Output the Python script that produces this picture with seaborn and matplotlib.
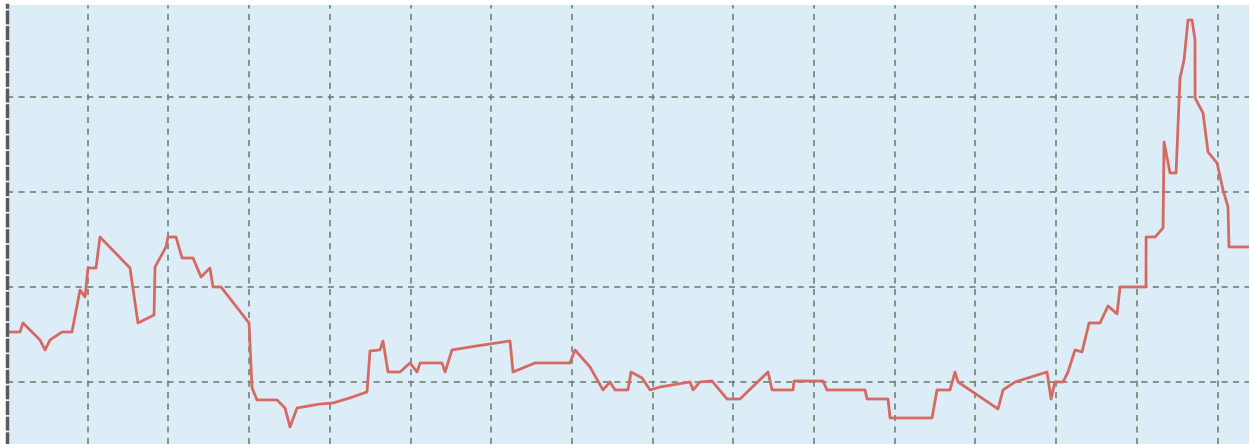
import numpy as np
import pandas as pd
import seaborn as sns
import matplotlib.pyplot as plt

# values (x in steps, grid every 10; y grid every 10)
step = [0, 1.61, 1.98, 4.09, 4.71, 5.33, 6.82, 8.05, 9.05, 9.67,
        10.04, 11.03, 11.52, 15.24, 16.23, 18.22, 18.34, 19.70, 19.95, 20.94,
        21.69, 23.05, 24.04, 25.15, 25.53, 26.52, 29.99, 30.36, 30.98, 33.46,
        34.45, 35.07, 35.94, 38.79, 40.40, 42.50, 44.61, 44.98, 46.22, 46.59,
        47.21, 48.70, 49.94, 50.81, 51.18, 53.90, 54.28, 55.14, 57.37, 62.33,
        62.70, 65.43, 69.76, 70.38, 72.24, 73.85, 74.72, 75.34, 76.95, 77.32,
        78.69, 79.68, 80.92, 84.63, 85.01, 85.87, 87.36, 89.22, 90.83, 94.30,
        94.80, 97.40, 97.52, 101.12, 101.61, 106.32, 106.57, 109.17, 109.42, 114.62,
        115.24, 116.85, 117.47, 117.84, 122.80, 123.42, 124.91, 128.87, 129.37, 129.86,
        130.86, 131.47, 132.34, 133.21, 134.08, 135.44, 136.43, 137.55, 137.92, 141.14,
        141.15, 142.26, 143.25, 143.37, 144.11, 144.86, 145.35, 145.85, 146.34, 146.84,
        147.21, 147.22, 148.20, 148.82, 149.94, 150.68, 151.30, 151.42, 153.9]
level = [15.26, 15.26, 16.21, 14.42, 13.37, 14.42, 15.26, 15.26, 19.68, 18.95,
         22.0, 22.0, 25.26, 22.0, 16.21, 17.05, 22.1, 24.21, 25.26, 25.26,
         23.05, 23.05, 21.05, 22.0, 20.0, 20.0, 16.21, 9.37, 8.11, 8.11,
         7.26, 5.26, 7.26, 7.68, 7.79, 8.32, 8.95, 13.26, 13.37, 14.32,
         11.05, 11.05, 12.0, 11.05, 12.0, 12.0, 11.05, 13.37, 13.68, 14.32,
         11.05, 12.0, 12.0, 13.37, 11.58, 9.16, 10.0, 9.16, 9.16, 11.05,
         10.42, 9.16, 9.47, 10.0, 9.16, 10.0, 10.1, 8.21, 8.21, 11.05,
         9.16, 9.16, 10.1, 10.1, 9.16, 9.16, 8.21, 8.21, 6.21, 6.21,
         9.16, 9.16, 11.05, 10.0, 7.16, 9.16, 10.0, 11.05, 8.21, 10.0,
         10.0, 11.05, 13.37, 13.16, 16.21, 16.21, 18.0, 17.16, 20.0, 20.0,
         25.26, 25.26, 26.21, 35.26, 32.0, 32.0, 42.0, 43.89, 48.1, 48.1,
         46.0, 39.89, 38.32, 34.21, 33.05, 30.21, 28.42, 24.21, 24.21]

df = pd.DataFrame({'step': step, 'level': level})

fig = plt.figure(figsize=(12.49, 4.44), dpi=100)
ax = fig.add_axes([7 / 1249, 0, 1242 / 1249, 439 / 444])
ax.set_facecolor('#dcedf8')

sns.lineplot(data=df, x='step', y='level', sort=False, color='#d66a63',
             linewidth=2, ax=ax)

ax.set_xlim(0, 153.9)
ax.set_ylim(3.47, 49.68)
ax.set_xticks(np.arange(10, 160, 10))
ax.set_yticks([10, 20, 30, 40])
ax.grid(True, color='#667d68', linestyle=(0, (4, 3.5)), linewidth=1.1)
ax.set_axisbelow(True)
ax.tick_params(length=0, labelleft=False, labelbottom=False)
ax.set_xlabel('')
ax.set_ylabel('')
for side in ['top', 'right', 'bottom']:
    ax.spines[side].set_visible(False)
ax.spines['left'].set_color('#5a5a5a')
ax.spines['left'].set_linewidth(2.5)
ax.spines['left'].set_linestyle((0, (3, 1.5)))

fig.savefig('out.png', dpi=100)
